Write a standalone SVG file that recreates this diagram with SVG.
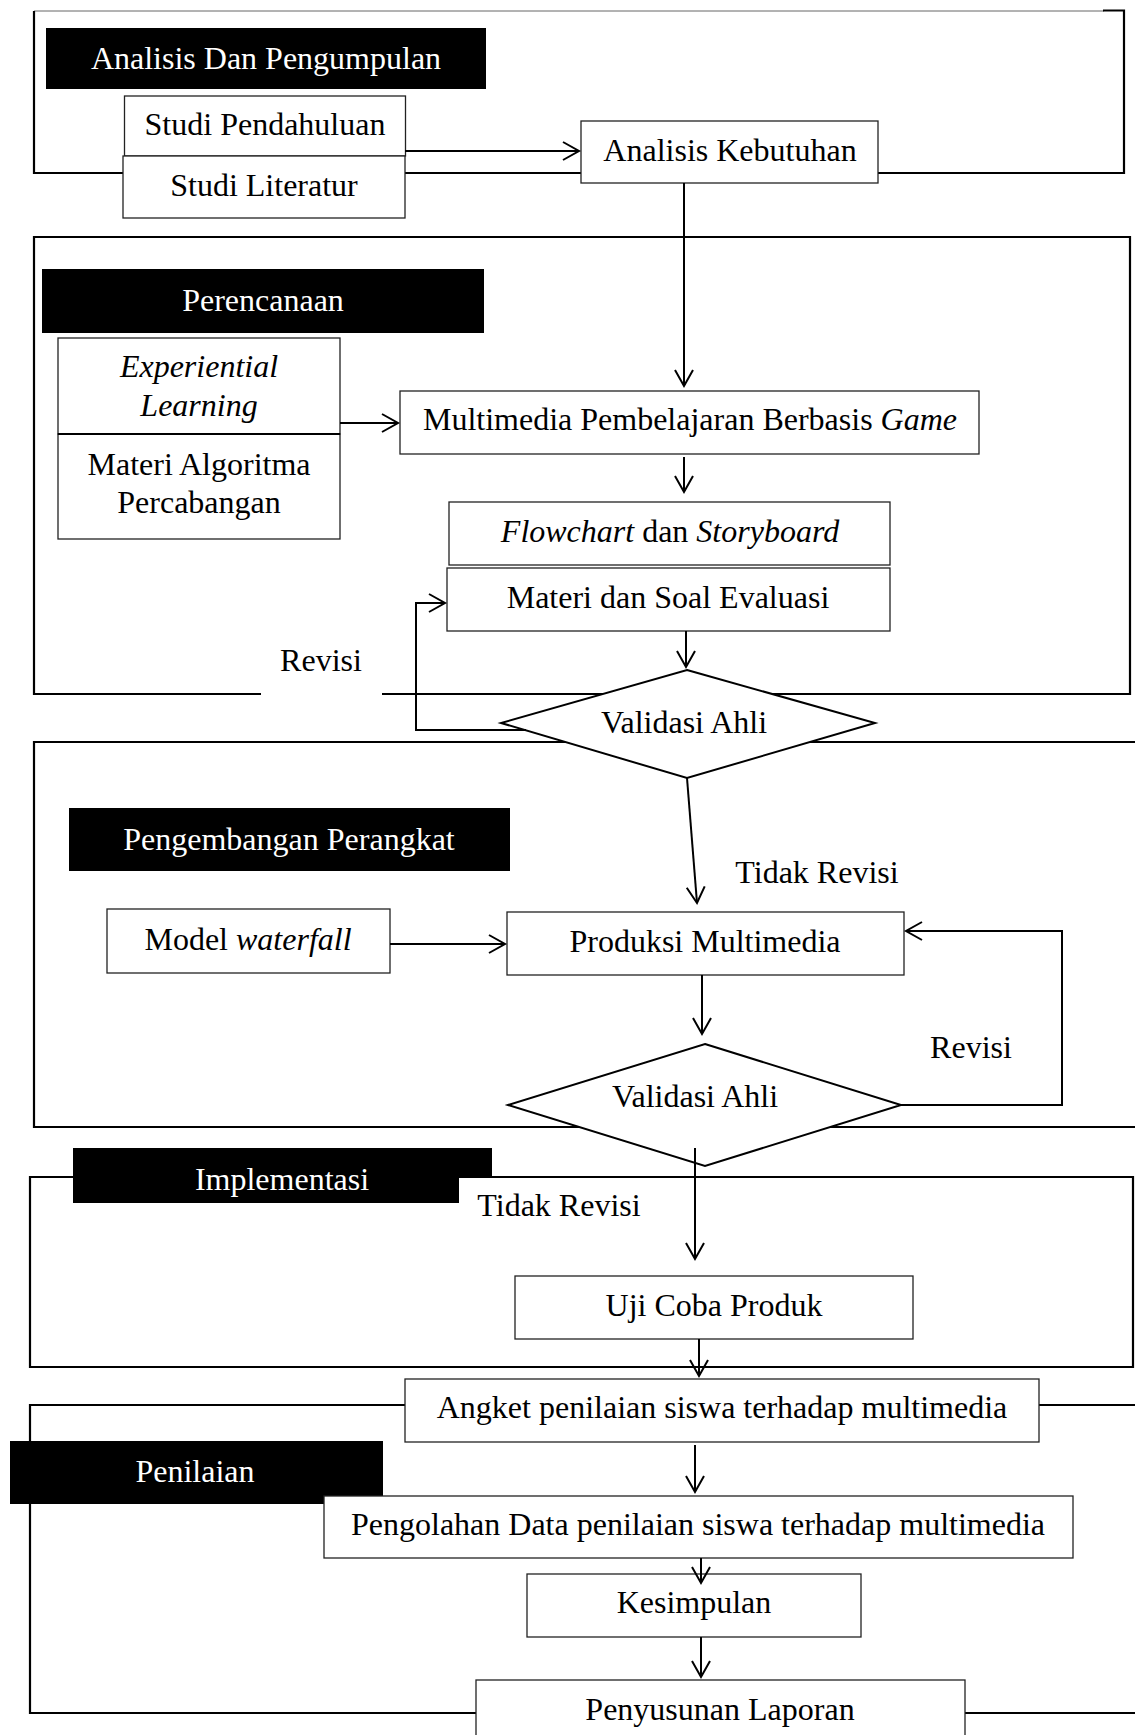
<svg xmlns="http://www.w3.org/2000/svg" width="1135" height="1735" viewBox="0 0 1135 1735">
<defs>
<marker id="ah" markerUnits="userSpaceOnUse" markerWidth="24" markerHeight="24" viewBox="-20 -12 24 24" refX="0" refY="0" orient="auto">
<path d="M-16,-9 L0,0 L-16,9" fill="none" stroke="#000" stroke-width="2"/>
</marker>
<style>
.frame{fill:none;stroke:#000;stroke-width:2.2}
.box{fill:#fff;stroke:#222;stroke-width:1.3}
.blk{fill:#000;stroke:none}
.dia{fill:#fff;stroke:#000;stroke-width:2}
.t{font-family:"Liberation Serif","Times New Roman",serif;font-size:32px;fill:#000;text-anchor:middle}
.w{fill:#fff}
.i{font-style:italic}
.c{fill:none;stroke:#000;stroke-width:2}
</style>
</defs>
<rect width="1135" height="1735" fill="#fff"/>

<g id="frames">
<line x1="34" y1="11" x2="1104" y2="11" stroke="#666" stroke-width="1"/>
<path class="frame" d="M1103,10.5 H1124 V173 H34 V11" stroke-width="2.5"/>
<path class="frame" d="M261,694 H34 V237 H1130 V694 H382"/>
<path class="frame" d="M1140,742 H34 V1127 H1140"/>
<path class="frame" d="M30,1177 H1133 V1367 H30 Z"/>
<path class="frame" d="M1140,1405 H30 V1713 H1140"/>
</g>

<g id="labels">
<rect class="blk" x="46" y="28" width="440" height="61"/>
<text class="t w" x="266" y="69">Analisis Dan Pengumpulan</text>
<rect class="blk" x="42" y="269" width="442" height="64"/>
<text class="t w" x="263" y="311">Perencanaan</text>
<rect class="blk" x="69" y="808" width="441" height="63"/>
<text class="t w" x="289" y="850">Pengembangan Perangkat</text>
<rect class="blk" x="73" y="1148" width="419" height="55"/>
<rect x="459" y="1178" width="40" height="30" fill="#fff"/>
<line x1="459" y1="1177" x2="500" y2="1177" stroke="#000" stroke-width="2.2"/>
<text class="t w" x="282" y="1190">Implementasi</text>
<rect class="blk" x="10" y="1441" width="373" height="63"/>
<text class="t w" x="195" y="1482">Penilaian</text>
</g>

<g id="studi-pendahuluan"><rect class="box" x="124.5" y="96" width="281" height="60"/><text class="t" x="265" y="135">Studi Pendahuluan</text></g>
<g id="studi-literatur"><rect class="box" x="123" y="156" width="282" height="62"/><text class="t" x="264" y="196">Studi Literatur</text></g>
<g id="analisis-kebutuhan"><rect class="box" x="581" y="121" width="297" height="62"/><text class="t" x="730" y="161">Analisis Kebutuhan</text></g>

<g id="experiential"><rect class="box" x="58" y="338" width="282" height="96"/><text class="t i" x="199" y="377">Experiential</text><text class="t i" x="199" y="416">Learning</text></g>
<g id="materi-algoritma"><rect class="box" x="58" y="434" width="282" height="105"/><line x1="58" y1="434" x2="340" y2="434" stroke="#000" stroke-width="2"/><text class="t" x="199" y="475">Materi Algoritma</text><text class="t" x="199" y="513">Percabangan</text></g>
<g id="multimedia"><rect class="box" x="400" y="391" width="579" height="63"/><text class="t" x="690" y="430">Multimedia Pembelajaran Berbasis <tspan class="i">Game</tspan></text></g>
<g id="flowchart"><rect class="box" x="449" y="502" width="441" height="63"/><text class="t" x="670" y="542"><tspan class="i">Flowchart</tspan> dan <tspan class="i">Storyboard</tspan></text></g>
<g id="materi-soal"><rect class="box" x="447" y="568" width="443" height="63"/><text class="t" x="668" y="608">Materi dan Soal Evaluasi</text></g>
<g id="revisi-1"><text class="t" x="321" y="671">Revisi</text></g>
<g id="validasi-1"><polygon class="dia" points="687,670 875,723 687,778 501,723"/><text class="t" x="684" y="733">Validasi Ahli</text></g>

<g id="tidak-revisi-1"><text class="t" x="817" y="883">Tidak Revisi</text></g>
<g id="model-waterfall"><rect class="box" x="107" y="909" width="283" height="64"/><text class="t" x="248" y="950">Model <tspan class="i">waterfall</tspan></text></g>
<g id="produksi"><rect class="box" x="507" y="912" width="397" height="63"/><text class="t" x="705" y="952">Produksi Multimedia</text></g>
<g id="revisi-2"><text class="t" x="971" y="1058">Revisi</text></g>
<g id="validasi-2"><polygon class="dia" points="705,1044 901,1105 705,1166 508,1105"/><text class="t" x="695" y="1107">Validasi Ahli</text></g>

<g id="tidak-revisi-2"><text class="t" x="559" y="1216">Tidak Revisi</text></g>
<g id="uji-coba"><rect class="box" x="515" y="1276" width="398" height="63"/><text class="t" x="714" y="1316">Uji Coba Produk</text></g>
<g id="angket"><rect class="box" x="405" y="1379" width="634" height="63"/><text class="t" x="722" y="1418">Angket penilaian siswa terhadap multimedia</text></g>
<g id="pengolahan"><rect class="box" x="324" y="1496" width="749" height="62"/><text class="t" x="698" y="1535">Pengolahan Data penilaian siswa terhadap multimedia</text></g>
<g id="kesimpulan"><rect class="box" x="527" y="1574" width="334" height="63"/><text class="t" x="694" y="1613">Kesimpulan</text></g>
<g id="penyusunan"><rect class="box" x="476" y="1680" width="489" height="70"/><text class="t" x="720" y="1720">Penyusunan Laporan</text></g>

<g id="connectors">
<path class="c" d="M405,151 H579" marker-end="url(#ah)"/>
<path class="c" d="M684,183 V386" marker-end="url(#ah)"/>
<path class="c" d="M340,423 H398" marker-end="url(#ah)"/>
<path class="c" d="M684,457 V492" marker-end="url(#ah)"/>
<path class="c" d="M686,631 V667" marker-end="url(#ah)"/>
<path class="c" d="M526,730 H416 V603 H445" marker-end="url(#ah)"/>
<path class="c" d="M687,778 L697,903" marker-end="url(#ah)"/>
<path class="c" d="M390,944 H505" marker-end="url(#ah)"/>
<path class="c" d="M702,975 V1034" marker-end="url(#ah)"/>
<path class="c" d="M901,1105 H1062 V931 H906" marker-end="url(#ah)"/>
<path class="c" d="M695,1148 V1259" marker-end="url(#ah)"/>
<path class="c" d="M699,1339 V1376" marker-end="url(#ah)"/>
<path class="c" d="M695,1445 V1492" marker-end="url(#ah)"/>
<path class="c" d="M701,1558 V1583" marker-end="url(#ah)"/>
<path class="c" d="M701,1637 V1677" marker-end="url(#ah)"/>
</g>
</svg>
